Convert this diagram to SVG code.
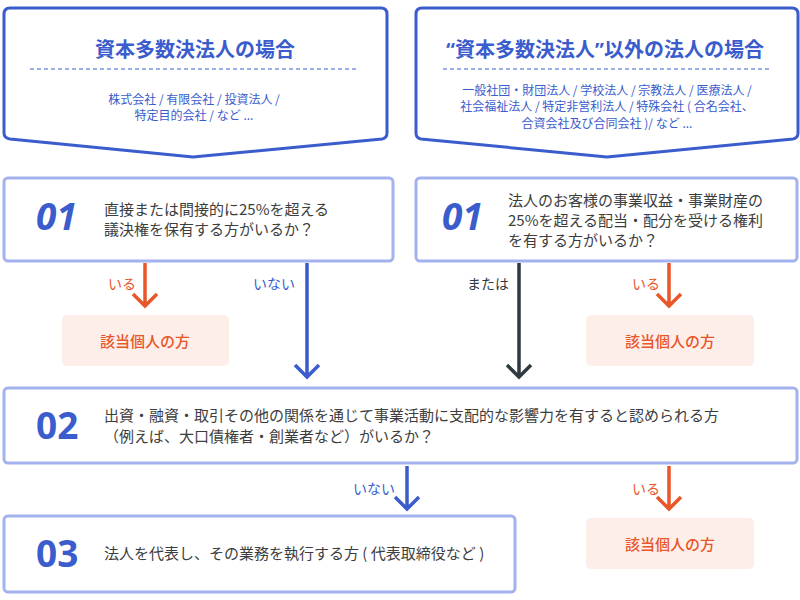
<svg xmlns="http://www.w3.org/2000/svg" width="800" height="600" viewBox="0 0 800 600">
<defs>
<style>
.pent{fill:#fff;stroke:#3a5ccc;stroke-width:3;stroke-linejoin:round}
.box{fill:#fff;stroke:#a4b2ee;stroke-width:3}
.hit{fill:#fdeee9}
.title{font-family:"Noto Sans CJK JP","Noto Sans",sans-serif;font-size:20px;font-weight:700;fill:#3a5ccc;text-anchor:middle}
.sub{font-family:"Noto Sans CJK JP",sans-serif;font-size:12px;fill:#3a5ccc;text-anchor:middle}
.body{font-family:"Noto Sans CJK JP",sans-serif;font-size:15px;fill:#3d3d3d}
.num{font-family:"Noto Sans","DejaVu Sans",sans-serif;font-size:37px;font-weight:700;fill:#3a5ccc}
.hitt{font-family:"Noto Sans CJK JP",sans-serif;font-size:15px;font-weight:500;fill:#e8562a;text-anchor:middle}
.lbl{font-family:"Noto Sans CJK JP",sans-serif;font-size:14px}
.dash{stroke:#3a5ccc;stroke-width:1;stroke-dasharray:4 3}
.ln{fill:none;stroke-width:3.5;stroke-linecap:butt;stroke-linejoin:miter}
.o{stroke:#e8562a}
.b{stroke:#3a5ccc}
.k{stroke:#2f3a40}
</style>
</defs>

<g id="head-left">
<path class="pent" d="M4,14 Q4,8 10,8 L381,8 Q387,8 387,14 L387,133 Q387,138 382,139 L193,157 L10,139 Q4,138 4,133 Z"/>
<text class="title" x="195" y="57">資本多数決法人の場合</text>
<line class="dash" x1="30" y1="69" x2="358" y2="69"/>
<text class="sub" x="194" y="104">株式会社 / 有限会社 / 投資法人 /</text>
<text class="sub" x="194" y="120">特定目的会社 / など ...</text>
</g>

<g id="head-right">
<path class="pent" d="M416,14 Q416,8 422,8 L792,8 Q798,8 798,14 L798,133 Q798,138 793,139 L607,157 L421,139 Q416,138 416,133 Z"/>
<text class="title" x="605" y="57"><tspan font-family="Noto Sans">“</tspan>資本多数決法人<tspan font-family="Noto Sans">”</tspan>以外の法人の場合</text>
<line class="dash" x1="443" y1="69" x2="770" y2="69"/>
<text class="sub" x="607" y="95">一般社団・財団法人 / 学校法人 / 宗教法人 / 医療法人 /</text>
<text class="sub" x="607" y="111">社会福祉法人 / 特定非営利法人 / 特殊会社 ( 合名会社、</text>
<text class="sub" x="607" y="128">合資会社及び合同会社 )/ など ...</text>
</g>

<g id="q01-left">
<rect class="box" x="4" y="178" width="389" height="83" rx="4"/>
<text class="num" x="36" y="230" font-style="italic">01</text>
<text class="body" x="104" y="215">直接または間接的に25%を超える</text>
<text class="body" x="104" y="235">議決権を保有する方がいるか？</text>
</g>

<g id="q01-right">
<rect class="box" x="416" y="178" width="381" height="83" rx="4"/>
<text class="num" x="442" y="230" font-style="italic">01</text>
<text class="body" x="508" y="206">法人のお客様の事業収益・事業財産の</text>
<text class="body" x="508" y="226">25%を超える配当・配分を受ける権利</text>
<text class="body" x="508" y="246">を有する方がいるか？</text>
</g>

<g id="hit-1">
<rect class="hit" x="62" y="315" width="167" height="51" rx="5"/>
<text class="hitt" x="145" y="347">該当個人の方</text>
</g>

<g id="hit-2">
<rect class="hit" x="586" y="315" width="168" height="51" rx="5"/>
<text class="hitt" x="670" y="347">該当個人の方</text>
</g>

<g id="q02">
<rect class="box" x="4" y="388" width="793" height="75" rx="4"/>
<text class="num" x="36" y="439">02</text>
<text class="body" x="104" y="421">出資・融資・取引その他の関係を通じて事業活動に支配的な影響力を有すると認められる方</text>
<text class="body" x="104" y="442">（例えば、大口債権者・創業者など）がいるか？</text>
</g>

<g id="q03">
<rect class="box" x="4" y="516" width="511" height="76" rx="4"/>
<text class="num" x="36" y="567">03</text>
<text class="body" x="104" y="559">法人を代表し、その業務を執行する方 ( 代表取締役など )</text>
</g>

<g id="hit-3">
<rect class="hit" x="586" y="518" width="168" height="51" rx="5"/>
<text class="hitt" x="670" y="550">該当個人の方</text>
</g>

<g id="connectors">
<path class="ln o" d="M145,263 V306 M133,294 L145,306 L157,294"/>
<text class="lbl" x="108" y="289" fill="#e8562a">いる</text>
<path class="ln b" d="M307,263 V377 M295,365 L307,377 L319,365"/>
<text class="lbl" x="253" y="289" fill="#3a5ccc">いない</text>
<path class="ln k" d="M519,263 V377 M507,365 L519,377 L531,365"/>
<text class="lbl" x="467" y="289" fill="#2f3a40">または</text>
<path class="ln o" d="M669,263 V306 M657,294 L669,306 L681,294"/>
<text class="lbl" x="632" y="289" fill="#e8562a">いる</text>
<path class="ln b" d="M407,466 V509 M395,497 L407,509 L419,497"/>
<text class="lbl" x="353" y="494" fill="#3a5ccc">いない</text>
<path class="ln o" d="M669,466 V509 M657,497 L669,509 L681,497"/>
<text class="lbl" x="632" y="494" fill="#e8562a">いる</text>
</g>
</svg>
